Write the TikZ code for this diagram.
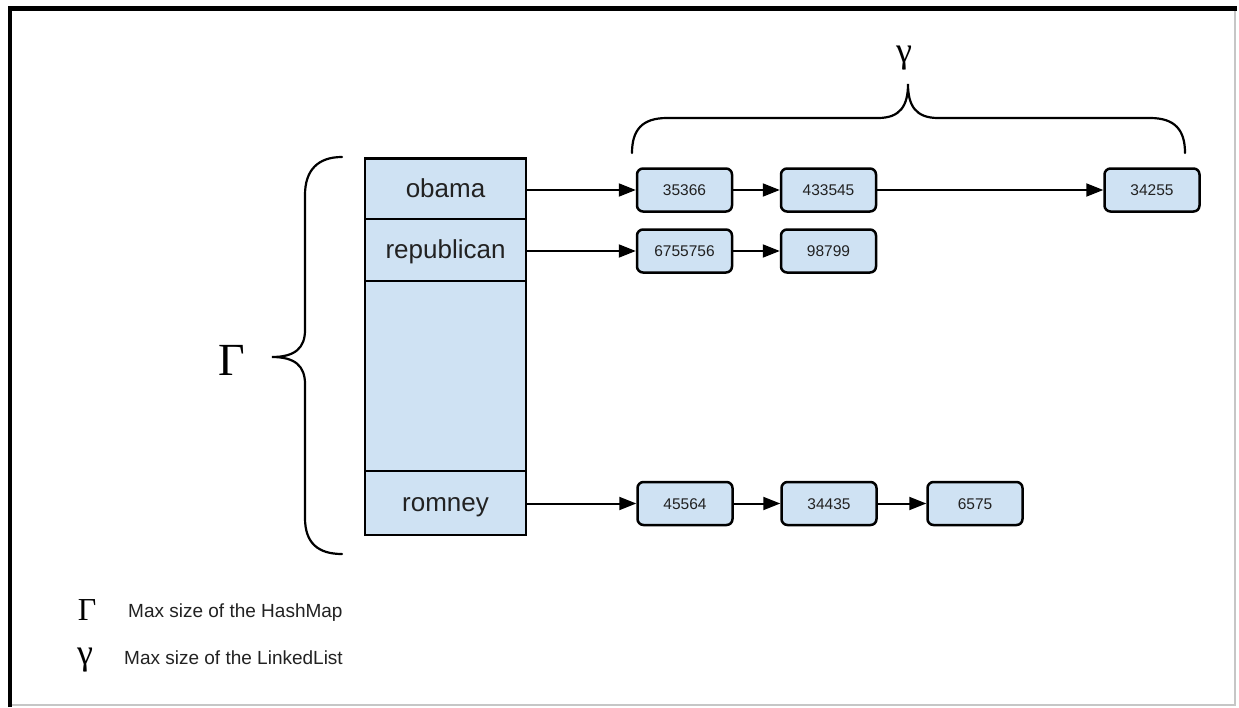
\documentclass[tikz,border=0pt]{standalone}
\usepackage{fontspec}
\setmainfont{Liberation Sans}
\newfontfamily\greekserif{Liberation Serif}
\usetikzlibrary{arrows.meta}
\definecolor{cellblue}{HTML}{CFE2F3}
\definecolor{txt}{HTML}{222222}
\begin{document}
\begin{tikzpicture}[x=1pt,y=-1pt,
  cell/.style={draw=black, fill=cellblue, line width=2.5pt, minimum width=161pt, inner sep=0pt, text=txt, font=\fontsize{26}{30}\selectfont, text height=22pt, text depth=5pt},
  item/.style={draw=black, fill=cellblue, line width=2.5pt, rounded corners=6pt, minimum width=95pt, minimum height=43pt, inner sep=0pt, text=txt, font=\fontsize{15.5}{18}\selectfont, text height=11pt, text depth=0pt},
  link/.style={line width=2pt, -{Triangle[length=17pt,width=13pt]}},
  brace/.style={line width=2.2pt, line cap=round},
  greek/.style={inner sep=0pt, text=black},
  legend/.style={inner sep=0pt, anchor=west, text=txt, font=\fontsize{19}{22}\selectfont}
]
\useasboundingbox (0,0) rectangle (1239,707);
\fill[white] (0,0) rectangle (1239,707);
% frame
\draw[gray!45, line width=1.5pt] (1235,8.5) -- (1235,705) -- (10,705);
\draw[line width=4.5pt] (10,707) -- (10,8.5) -- (1237,8.5);

% hash map column
\node[cell, minimum height=61pt] (obama) at (445.5,189) {obama};
\node[cell, minimum height=62pt] (rep) at (445.5,250) {republican};
\node[cell, minimum height=190pt] (empty) at (445.5,376) {};
\node[cell, minimum height=64pt] (romney) at (445.5,503) {romney};

% linked list items
\node[item] (a1) at (684.5,190) {35366};
\node[item] (a2) at (828.5,190) {433545};
\node[item] (a3) at (1152,190) {34255};
\node[item] (b1) at (684.5,251) {6755756};
\node[item] (b2) at (828.5,251) {98799};
\node[item] (c1) at (685,503.5) {45564};
\node[item] (c2) at (829,503.5) {34435};
\node[item] (c3) at (975,503.5) {6575};

% connectors
\draw[link] (obama.east |- a1.west) -- (a1.west);
\draw[link] (a1.east) -- (a2.west);
\draw[link] (a2.east) -- (a3.west);
\draw[link] (rep.east |- b1.west) -- (b1.west);
\draw[link] (b1.east) -- (b2.west);
\draw[link] (romney.east |- c1.west) -- (c1.west);
\draw[link] (c1.east) -- (c2.west);
\draw[link] (c2.east) -- (c3.west);

% top brace
\draw[brace] (632,153) .. controls (632,130) and (642,118) .. (667,118) -- (878,118)
  .. controls (900,118) and (908,106) .. (908,84)
  .. controls (908,106) and (916,118) .. (938,118) -- (1150,118)
  .. controls (1175,118) and (1185,130) .. (1185,153);
\node[greek, font=\greekserif\fontsize{36}{40}\selectfont] (gtop) at (904,58) {γ};

% left brace
\draw[brace] (342,157) .. controls (318,157) and (305,170) .. (305,195) -- (305,330)
  .. controls (305,348) and (295,357) .. (272,357)
  .. controls (295,357) and (305,366) .. (305,384) -- (305,518)
  .. controls (305,543) and (318,554) .. (342,554);
\node[greek, font=\greekserif\fontsize{46}{50}\selectfont] (Gbig) at (232,360) {Γ};

% legend
\node[greek, font=\greekserif\fontsize{32}{36}\selectfont] (Gleg) at (87,610) {Γ};
\node[legend] (t1) at (128,613) {Max size of the HashMap};
\node[greek, font=\greekserif\fontsize{36}{40}\selectfont] (gleg) at (85,660) {γ};
\node[legend] (t2) at (124,658) {Max size of the LinkedList};
\end{tikzpicture}
\end{document}
